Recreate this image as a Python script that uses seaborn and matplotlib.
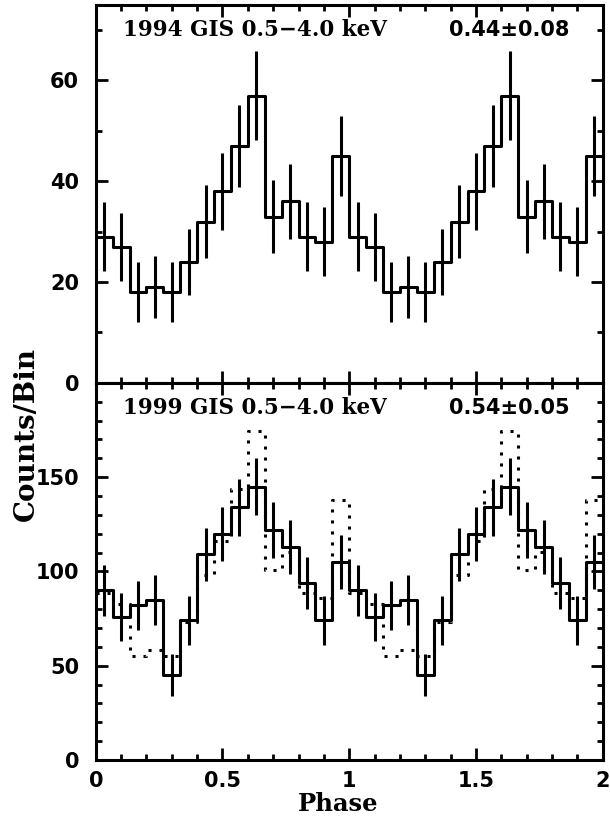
import numpy as np
import pandas as pd
import matplotlib
matplotlib.use("Agg")
import matplotlib.pyplot as plt
from matplotlib.ticker import MultipleLocator
import seaborn as sns

# Folded light curves: 15 phase bins per cycle, drawn over two cycles
n_bins = 15
n_cycles = 2

counts_1994 = [29, 27, 18, 19, 18, 24, 32, 38, 47, 57, 33, 36, 29, 28, 45]
errors_1994 = [6.9, 6.8, 6.0, 6.2, 6.0, 6.5, 7.2, 7.6, 8.2, 8.8, 7.2, 7.4, 6.9, 6.8, 8.0]

counts_1999 = [90, 76, 82, 85, 45, 74, 109, 120, 134, 145, 122, 113, 94, 74, 105]
errors_1999 = [13.4, 12.8, 13.0, 13.3, 11.3, 12.8, 14.1, 14.4, 15.0, 15.3,
               14.6, 14.3, 13.8, 12.9, 14.3]
# 1994 profile rescaled to the 1999 exposure (dotted comparison curve)
rescaled_1994 = [88.7, 82.6, 55.1, 58.1, 55.1, 73.4, 97.9, 116.3, 143.8, 174.4,
                 101.0, 110.2, 88.7, 85.7, 137.7]

titles = ["1994 GIS 0.5\u22124.0 keV", "1999 GIS 0.5\u22124.0 keV"]
fractions = ["0.44\u00b10.08", "0.54\u00b10.05"]
x_tick_values = [0, 0.5, 1, 1.5, 2]
x_tick_labels = ["0", "0.5", "1", "1.5", "2"]
y_ticks_top = [0, 20, 40, 60]
y_ticks_bottom = [0, 50, 100, 150]

sns.set_style("ticks")
plt.rcParams["font.family"] = ["DejaVu Sans"]
for key in ["text.color", "axes.labelcolor", "xtick.color", "ytick.color",
            "axes.edgecolor"]:
    plt.rcParams[key] = "black"

LW = 2.2
SERIF = dict(family="DejaVu Serif", weight="bold", color="black")
SANS = dict(family="DejaVu Sans", weight="bold", color="black")


def step_frame(values):
    """Bin edges and per-edge level for a steps-post curve over all cycles."""
    edges = np.arange(n_bins * n_cycles + 1) / n_bins
    levels = list(np.tile(values, n_cycles)) + [values[-1]]
    return pd.DataFrame({"phase": edges, "counts": levels})


def draw_errors(ax, values, errors):
    centers = (np.arange(n_bins * n_cycles) + 0.5) / n_bins
    v = np.tile(values, n_cycles)
    e = np.tile(errors, n_cycles)
    ax.vlines(centers, v - e, v + e, color="black", lw=LW, zorder=4)


def style_axis(ax, ymax, yticks, ystep_minor):
    ax.set_xlim(0, 2)
    ax.set_ylim(0, ymax)
    ax.set_xticks(x_tick_values)
    ax.xaxis.set_minor_locator(MultipleLocator(0.1))
    ax.set_yticks(yticks)
    ax.yaxis.set_minor_locator(MultipleLocator(ystep_minor))
    ax.tick_params(which="both", direction="in", top=True, right=True,
                   width=2.0, color="black")
    ax.tick_params(which="major", length=8.6, pad=8)
    ax.tick_params(which="minor", length=4.3)
    ax.tick_params(axis="y", which="major", pad=12)
    for s in ax.spines.values():
        s.set_linewidth(LW)
        s.set_color("black")
    ax.set_xlabel("")
    ax.set_ylabel("")
    ax.set_yticklabels([str(t) for t in yticks], fontsize=15, **SANS)


fig = plt.figure(figsize=(6.10, 8.18), dpi=100)
ax_top = fig.add_axes([0.157, 0.532, 0.831, 0.462])
ax_bot = fig.add_axes([0.157, 0.0709, 0.831, 0.461])

# Upper panel: 1994
sns.lineplot(data=step_frame(counts_1994), x="phase", y="counts",
             drawstyle="steps-post", estimator=None, color="black",
             linewidth=LW, ax=ax_top, zorder=3)
draw_errors(ax_top, np.array(counts_1994), np.array(errors_1994))
style_axis(ax_top, 75, y_ticks_top, 10)
ax_top.set_xticklabels([])

# Lower panel: 1999 with the rescaled 1994 profile dotted
sns.lineplot(data=step_frame(rescaled_1994), x="phase", y="counts",
             drawstyle="steps-post", estimator=None, color="black",
             linewidth=LW, linestyle=(0, (1, 2.6)), ax=ax_bot, zorder=2)
sns.lineplot(data=step_frame(counts_1999), x="phase", y="counts",
             drawstyle="steps-post", estimator=None, color="black",
             linewidth=LW, ax=ax_bot, zorder=3)
draw_errors(ax_bot, np.array(counts_1999), np.array(errors_1999))
style_axis(ax_bot, 200, y_ticks_bottom, 10)
ax_bot.set_xticklabels(x_tick_labels, fontsize=15, **SANS)

for ax, title, frac in zip([ax_top, ax_bot], titles, fractions):
    ax.text(0.053, 0.934, title, transform=ax.transAxes, ha="left",
            va="center", fontsize=15.5, **SERIF)
    ax.text(0.935, 0.934, frac, transform=ax.transAxes, ha="right",
            va="center", fontsize=15, **SANS)

fig.text(26 / 610, 1 - 434 / 818, "Counts/Bin", rotation=90, ha="center",
         va="center", fontsize=20, **SERIF)
fig.text(338 / 610, 1 - 804 / 818, "Phase", ha="center", va="center",
         fontsize=17.5, **SERIF)

fig.savefig("out.png", dpi=100)
